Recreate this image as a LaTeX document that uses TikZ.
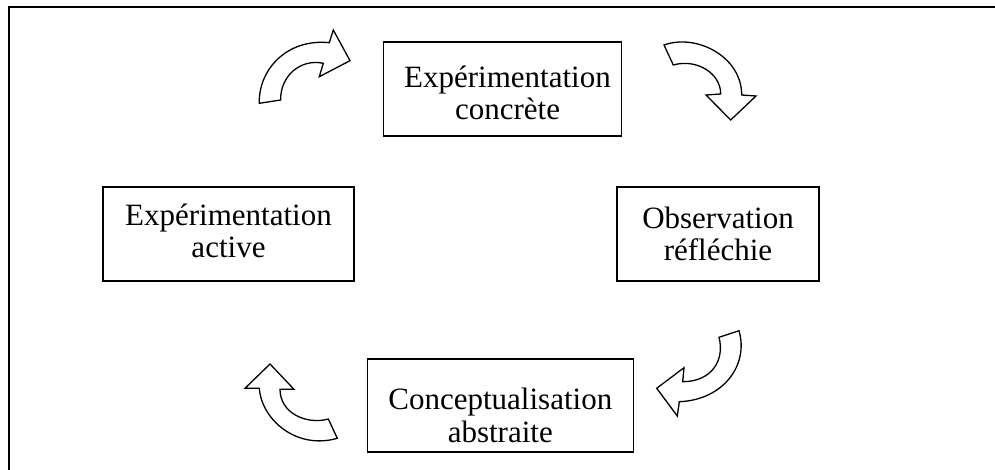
\documentclass[tikz,border=0pt]{standalone}
\usepackage{fontspec}
\setmainfont{Liberation Serif}
\begin{document}
\begin{tikzpicture}[x=1pt,y=-1pt,
  stagebox/.style={draw=black,line width=1.5pt,fill=white,inner sep=0pt},
  stagetext/.style={inner sep=0pt,align=center,font=\fontsize{31}{32.5}\selectfont},
  blockarrow/.style={draw=black,line width=1.3pt,fill=white,line join=miter},
  frameline/.style={draw=black,line width=1.8pt}]
\useasboundingbox (0,0) rectangle (995,470);
\fill[white] (0,0) rectangle (995,470);
% frame (open at right and bottom)
\draw[frameline] (9.3,480) -- (9.3,6.7) -- (1005,6.7);
% boxes
\node[stagebox,minimum width=238pt,minimum height=94pt] (ec) at (502.5,88.9) {};
\node[stagebox,minimum width=251pt,minimum height=94pt] (ea) at (228.5,234) {};
\node[stagebox,minimum width=202pt,minimum height=94pt] (or) at (718,234) {};
\node[stagebox,minimum width=266pt,minimum height=93pt] (ca) at (500.3,405.3) {};
% texts
\node[stagetext] (ectext) at ([xshift=5pt,yshift=-3.8pt]ec.center) {Expérimentation\\concrète};
\node[stagetext] (eatext) at ([yshift=3pt]ea.center) {Expérimentation\\active};
\node[stagetext] (ortext) at (or.center) {Observation\\réfléchie};
\node[stagetext] (catext) at ([yshift=-10pt]ca.center) {Conceptualisation\\abstraite};
% curved block arrows
\path[blockarrow] (259.3,103.3) .. controls (258.3,70) and (286.7,38.3) .. (329.3,42.7)
  -- (333.3,30) -- (350,60.7) -- (319.3,76.7) -- (323.3,63.3)
  .. controls (300,58.3) and (280,76.7) .. (280.7,100) -- cycle;
\path[blockarrow] (664,45) .. controls (696.7,33.3) and (741.7,56.7) .. (741.7,95)
  -- (756,96) -- (730.7,120) -- (706,95) -- (720.7,94)
  .. controls (720.7,73.3) and (696.7,58.3) .. (673.3,65) -- cycle;
\path[blockarrow] (739,330.7) .. controls (749,365) and (723.3,400) .. (679.3,401.7)
  -- (677.3,416) -- (656.7,388.3) -- (684,367.7) -- (682.7,381.7)
  .. controls (711.7,381.7) and (725,360) .. (719,337.3) -- cycle;
\path[blockarrow] (259.3,388.3) .. controls (261.7,420) and (296.7,450) .. (337.3,438.3)
  -- (328.3,419) .. controls (306.7,425) and (280,413.3) .. (280,389.3)
  -- (294,389.3) -- (270,364) -- (245,388.3) -- cycle;
\end{tikzpicture}
\end{document}
